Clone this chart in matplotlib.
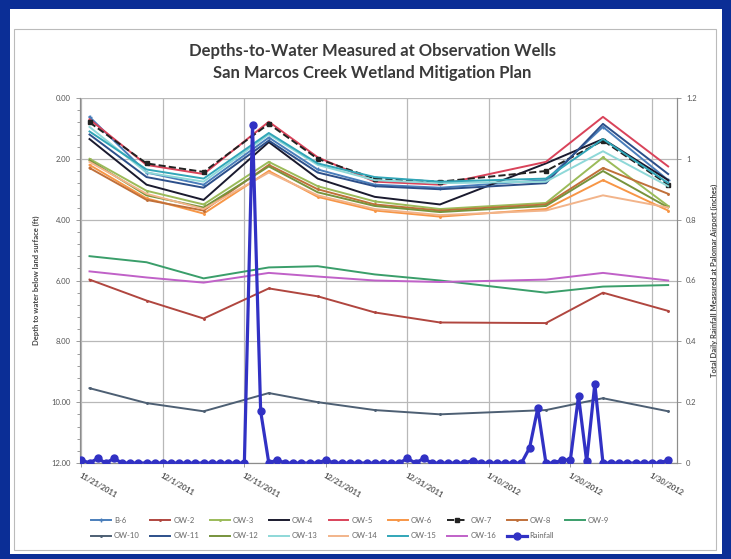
import pandas as pd
import matplotlib.pyplot as plt
from matplotlib.patches import Rectangle

plt.rcParams['font.family'] = ['Lato', 'DejaVu Sans']

# Well measurement dates and depths-to-water (ft below land surface)
well_dates = pd.to_datetime(['2011-11-22', '2011-11-29', '2011-12-06', '2011-12-14', '2011-12-20',
                             '2011-12-27', '2012-01-04', '2012-01-17', '2012-01-24', '2012-02-01'])

b6   = [0.62, 2.45, 2.85, 1.30, 2.35, 2.85, 2.95, 2.70, 0.95, 2.70]
ow2  = [5.97, 6.66, 7.25, 6.26, 6.52, 7.05, 7.38, 7.40, 6.40, 7.00]
ow3  = [2.00, 3.05, 3.50, 2.10, 2.90, 3.40, 3.65, 3.45, 1.95, 3.55]
ow4  = [1.35, 2.85, 3.35, 1.45, 2.65, 3.25, 3.50, 2.15, 1.35, 2.70]
ow5  = [0.70, 2.20, 2.50, 0.78, 1.95, 2.75, 2.85, 2.10, 0.62, 2.25]
ow6  = [2.20, 3.30, 3.80, 2.40, 3.25, 3.70, 3.90, 3.65, 2.70, 3.70]
ow7  = [0.80, 2.15, 2.43, 0.85, 2.00, 2.65, 2.75, 2.40, 1.40, 2.85]
ow8  = [2.30, 3.35, 3.70, 2.20, 3.00, 3.50, 3.70, 3.50, 2.30, 3.15]
ow9  = [5.20, 5.40, 5.93, 5.57, 5.53, 5.80, 6.00, 6.40, 6.20, 6.15]
ow10 = [9.54, 10.03, 10.30, 9.70, 10.00, 10.26, 10.40, 10.26, 9.87, 10.30]
ow11 = [1.20, 2.60, 2.95, 1.40, 2.45, 2.90, 3.00, 2.80, 0.85, 2.50]
ow12 = [2.05, 3.20, 3.60, 2.25, 3.10, 3.55, 3.75, 3.55, 2.40, 3.60]
ow13 = [0.95, 2.45, 2.75, 1.20, 2.20, 2.70, 2.80, 2.75, 1.75, 2.90]
ow14 = [2.10, 3.15, 3.65, 2.45, 3.20, 3.65, 3.85, 3.70, 3.20, 3.60]
ow15 = [1.10, 2.35, 2.65, 1.15, 2.15, 2.60, 2.75, 2.65, 1.35, 2.80]
ow16 = [5.70, 5.90, 6.07, 5.75, 5.87, 6.00, 6.05, 5.97, 5.75, 6.00]

# Daily rainfall at Palomar Airport (inches), 11/21/2011 - 2/1/2012
rain = [0.01, 0, 0.015, 0, 0.015, 0, 0, 0, 0, 0,
        0, 0, 0, 0, 0, 0, 0, 0, 0, 0,
        0, 1.11, 0.17, 0, 0.01, 0, 0, 0, 0, 0,
        0.01, 0, 0, 0, 0, 0, 0, 0, 0, 0,
        0.015, 0, 0.015, 0, 0, 0, 0, 0, 0.008, 0,
        0, 0, 0, 0, 0, 0.05, 0.18, 0, 0, 0.01,
        0.01, 0.22, 0.005, 0.26, 0, 0, 0, 0, 0, 0,
        0, 0, 0.01]
rain_dates = pd.date_range('2011-11-21', periods=len(rain), freq='D')

tick_dates = pd.to_datetime(['2011-11-21', '2011-12-01', '2011-12-11', '2011-12-21',
                             '2011-12-31', '2012-01-10', '2012-01-20', '2012-01-30'])
tick_labels = ['11/21/2011', '12/1/2011', '12/11/2011', '12/21/2011',
               '12/31/2011', '1/10/2012', '1/20/2012', '1/30/2012']

wells = [
    ('B-6', b6, '#4a7ebb', '-', '+'),
    ('OW-2', ow2, '#b0463f', '-', '.'),
    ('OW-3', ow3, '#9bbb59', '-', '.'),
    ('OW-4', ow4, '#1a1a2e', '-', None),
    ('OW-5', ow5, '#d9435a', '-', None),
    ('OW-6', ow6, '#f79646', '-', '.'),
    ('OW-7', ow7, '#222222', '--', 's'),
    ('OW-8', ow8, '#c0703a', '-', '.'),
    ('OW-9', ow9, '#3a9e6a', '-', None),
    ('OW-10', ow10, '#4d5f73', '-', '.'),
    ('OW-11', ow11, '#2c4f8a', '-', None),
    ('OW-12', ow12, '#77933c', '-', None),
    ('OW-13', ow13, '#8ed8d8', '-', None),
    ('OW-14', ow14, '#f2b48a', '-', None),
    ('OW-15', ow15, '#31a6b8', '-', None),
    ('OW-16', ow16, '#c061c8', '-', None),
]

fig = plt.figure(figsize=(7.31, 5.59), dpi=100, facecolor='#0b2e96')
W, H = 731, 559
fig.add_artist(Rectangle((10 / W, 5 / H), 712 / W, 545 / H, transform=fig.transFigure,
                         facecolor='white', edgecolor='none', zorder=-2))
fig.add_artist(Rectangle((14 / W, 9 / H), 702 / W, 521 / H, transform=fig.transFigure,
                         facecolor='none', edgecolor='#bbbbbb', linewidth=0.8, zorder=-1))

ax = fig.add_axes([80 / W, 1 - 463 / H, 597 / W, 365 / H])
ax2 = ax.twinx()

handles = []
for name, vals, color, ls, mk in wells:
    h, = ax.plot(well_dates, vals, color=color, linestyle=ls, linewidth=1.4,
                 marker=mk, markersize=2.2, label=name)
    handles.append(h)

hr, = ax2.plot(rain_dates, rain, color='#3131c4', linewidth=2.3, marker='o',
               markersize=5, label='Rainfall', zorder=5)
handles.append(hr)

ax.set_ylim(12, 0)
ax.set_yticks([0, 2, 4, 6, 8, 10, 12])
ax.set_yticklabels(['0.00', '2.00', '4.00', '6.00', '8.00', '10.00', '12.00'])
ax.set_yticks([i * 0.4 for i in range(31)], minor=True)
ax2.set_ylim(0, 1.2)
ax2.set_yticks([0, 0.2, 0.4, 0.6, 0.8, 1.0, 1.2])
ax2.set_yticklabels(['0', '0.2', '0.4', '0.6', '0.8', '1', '1.2'])

ax.set_xlim(pd.Timestamp('2011-11-20 20:00'), pd.Timestamp('2012-02-02 02:00'))
ax.set_xticks(tick_dates)
ax.set_xticklabels(tick_labels, rotation=-30, ha='left', va='top', rotation_mode='anchor',
                   fontweight='bold')

ax.grid(True, which='major', color='#b8b8b8', linewidth=0.9)
for a in (ax, ax2):
    for s in a.spines.values():
        s.set_color('#8c8c8c')
        s.set_linewidth(0.8)
    a.tick_params(labelsize=5.5, colors='#8c8c8c', labelcolor='#555555', length=3, width=0.6)
ax.tick_params(which='minor', length=2, colors='#8c8c8c')
ax.spines['top'].set_visible(False)
ax2.spines['top'].set_visible(False)

ax.set_ylabel('Depth to water below land surface (ft)', fontsize=5.5, fontweight='bold',
              color='#444444', labelpad=8)
ax2.set_ylabel('Total Daily Rainfall Measured at Palomar Airport (inches)', fontsize=5.5,
               fontweight='bold', color='#444444', labelpad=10, rotation=90)

fig.text(372 / W, 1 - 51 / H, 'Depths-to-Water Measured at Observation Wells',
         ha='center', va='center', fontsize=12, fontweight='bold', color='#3a3a3a')
fig.text(372 / W, 1 - 73 / H, 'San Marcos Creek Wetland Mitigation Plan',
         ha='center', va='center', fontsize=12, fontweight='bold', color='#3a3a3a')

# row-major order for a 9-column legend
order = []
for i in range(9):
    order.append(i)
    if i + 9 < len(handles):
        order.append(i + 9)
fig.legend([handles[i] for i in order], [handles[i].get_label() for i in order],
           loc='center', bbox_to_anchor=(350 / W, 1 - 528 / H), ncol=9, frameon=False,
           fontsize=5.5, handlelength=2.6, columnspacing=1.4, handletextpad=0.4,
           labelspacing=1.1, labelcolor='#666666')

plt.savefig('out.png', dpi=100, facecolor=fig.get_facecolor())
